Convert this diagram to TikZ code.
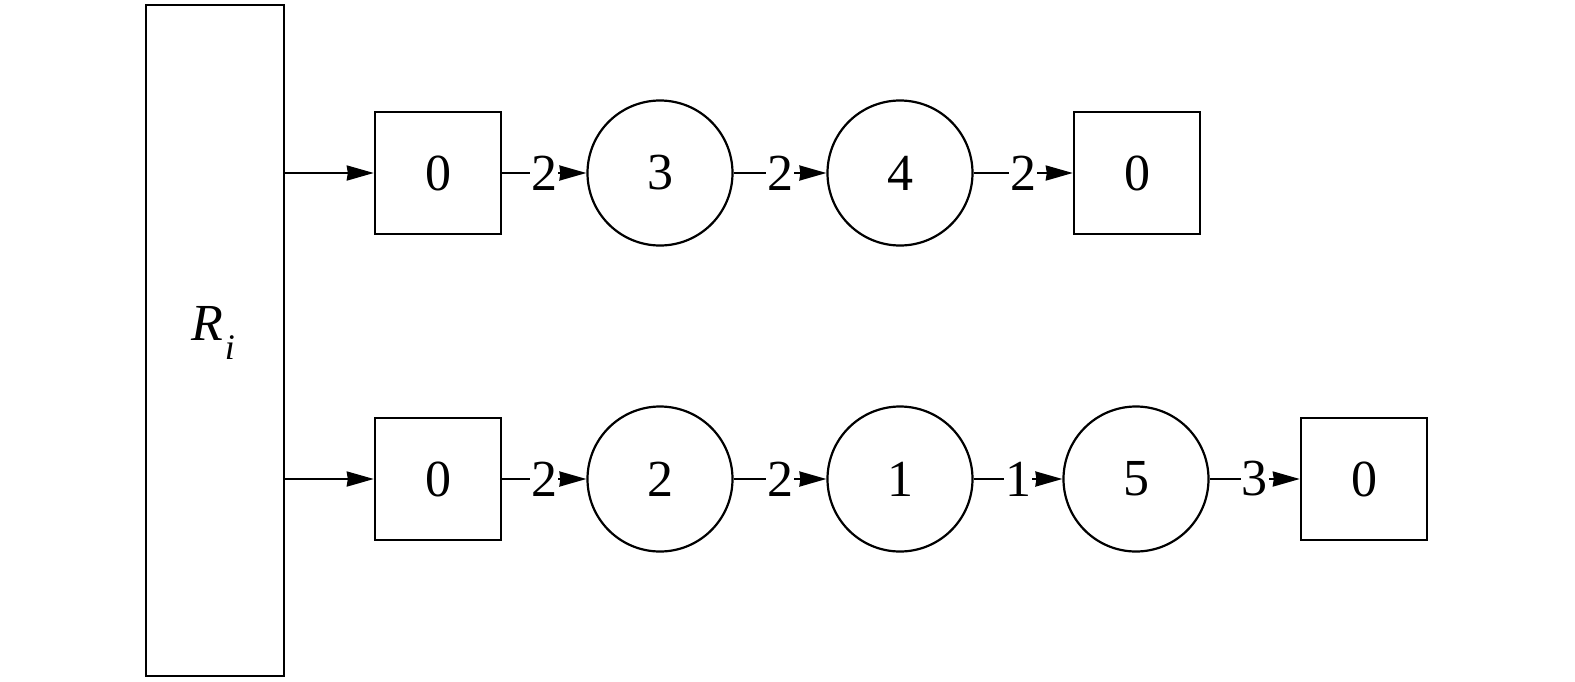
\documentclass[tikz,border=0pt]{standalone}
\usepackage{fontspec}
\setmainfont{Liberation Serif}
\usetikzlibrary{arrows.meta}
\begin{document}
\begin{tikzpicture}[x=1pt,y=-1pt,
  every node/.style={font=\fontsize{52}{52}\selectfont},
  sq/.style={draw,line width=2.4pt,minimum width=126pt,minimum height=122pt,inner sep=0pt},
  circ/.style={draw,circle,line width=2.2pt,minimum size=145pt,inner sep=0pt},
  conn/.style={line width=2.2pt,-{Stealth[length=27pt,width=15pt,inset=1pt]}},
  lab/.style={fill=white,inner sep=1pt}]
\useasboundingbox (0,0) rectangle (1575,681);
\node[draw,line width=2.4pt,minimum width=138pt,minimum height=671pt,inner sep=0pt] (R) at (215,340.5) {};
\node (Rl) at (213,333) {\textit{R}\hspace{2pt}\raisebox{-0.36em}{\fontsize{36}{36}\selectfont\textit{i}}};
% top row
\node[sq] (t0) at (438,173) {0};
\node[circ] (t3) at (660,173) {3};
\node[circ] (t4) at (900,173) {4};
\node[sq] (te) at (1137,173) {0};
% bottom row
\node[sq] (b0) at (438,479) {0};
\node[circ] (b2) at (660,479) {2};
\node[circ] (b1) at (900,479) {1};
\node[circ] (b5) at (1136,479) {5};
\node[sq] (be) at (1364,479) {0};
\coordinate (rt) at (R.east |- t0);
\coordinate (rb) at (R.east |- b0);
\draw[conn] (rt) -- (t0.west);
\draw[conn] (rb) -- (b0.west);
\draw[conn] (t0) -- node[lab]{2} (t3);
\draw[conn] (t3) -- node[lab]{2} (t4);
\draw[conn] (t4) -- node[lab]{2} (te);
\draw[conn] (b0) -- node[lab]{2} (b2);
\draw[conn] (b2) -- node[lab]{2} (b1);
\draw[conn] (b1) -- node[lab]{1} (b5);
\draw[conn] (b5) -- node[lab]{3} (be);
\end{tikzpicture}
\end{document}
